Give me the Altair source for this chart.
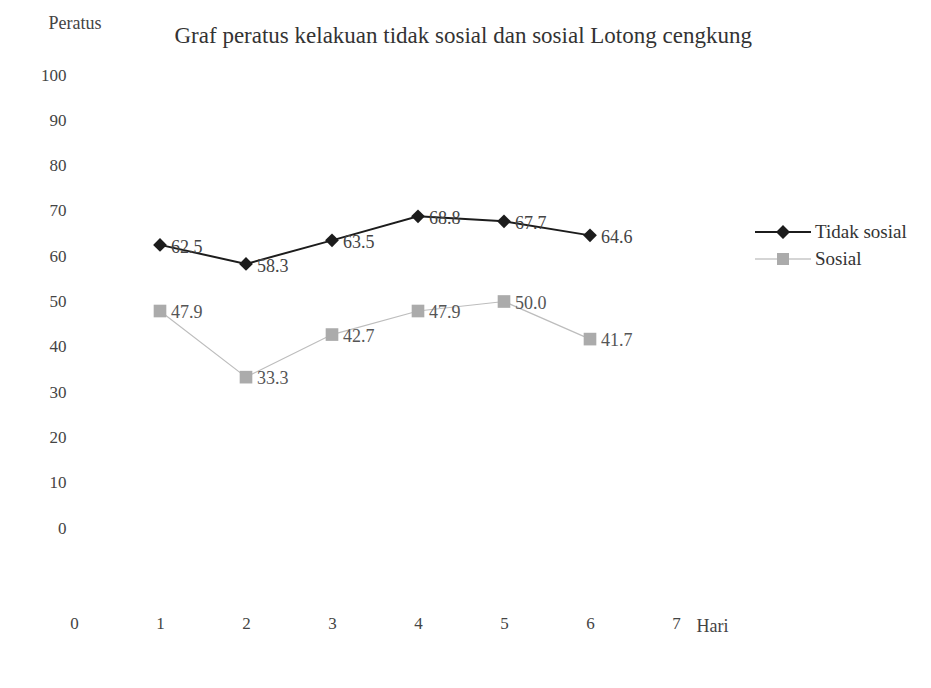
import altair as alt
import pandas as pd

days = [1, 2, 3, 4, 5, 6]
tidak_sosial = [62.5, 58.3, 63.5, 68.8, 67.7, 64.6]
sosial = [47.9, 33.3, 42.7, 47.9, 50.0, 41.7]
series_names = ["Tidak sosial", "Sosial"]
x_ticks = [0, 1, 2, 3, 4, 5, 6, 7]
y_ticks = [0, 10, 20, 30, 40, 50, 60, 70, 80, 90, 100]
title_text = "Graf peratus kelakuan tidak sosial dan sosial Lotong cengkung"

df = pd.DataFrame({
    "Hari": days * 2,
    "Peratus": tidak_sosial + sosial,
    "Siri": [series_names[0]] * len(days) + [series_names[1]] * len(days),
    "Label": [f"{v:.1f}" for v in tidak_sosial + sosial],
})

FONT = "Liberation Serif"

x_enc = alt.X(
    "Hari:Q",
    scale=alt.Scale(domain=[0, 7], nice=False, zero=False),
    axis=alt.Axis(
        values=x_ticks, domain=False, ticks=False, grid=False, offset=85,
        labelFlush=False, labelFont=FONT, labelFontSize=17, labelColor="#444",
        title="Hari", titleFont=FONT, titleFontSize=18, titleFontWeight="normal",
        titleColor="#444", titleX=622, titleY=4, titleAlign="left", titleBaseline="top",
    ),
)
y_enc = alt.Y(
    "Peratus:Q",
    scale=alt.Scale(domain=[0, 100], nice=False),
    axis=alt.Axis(
        values=y_ticks, domain=False, ticks=False, grid=False, labelPadding=8,
        labelFont=FONT, labelFontSize=17, labelColor="#444",
        title="Peratus", titleAngle=0, titleX=-26, titleY=-47, titleAlign="left",
        titleBaseline="alphabetic", titleFont=FONT, titleFontSize=18,
        titleFontWeight="normal", titleColor="#444",
    ),
)

base = alt.Chart(df).encode(x=x_enc, y=y_enc)

ts = base.transform_filter(alt.datum.Siri == series_names[0])
so = base.transform_filter(alt.datum.Siri == series_names[1])

ts_line = ts.mark_line(color="#1c1c1c", strokeWidth=2)
ts_pts = ts.mark_point(shape="diamond", filled=True, color="#1c1c1c", size=190, opacity=1)
ts_txt = ts.mark_text(align="left", baseline="middle", dx=11, dy=3, font=FONT,
                      fontSize=18, color="#444").encode(text="Label:N")

so_line = so.mark_line(color="#bdbdbd", strokeWidth=1.2)
so_pts = so.mark_point(shape="square", filled=True, color="#ababab", size=160, opacity=1)
so_txt = so.mark_text(align="left", baseline="middle", dx=11, dy=2, font=FONT,
                      fontSize=18, color="#555").encode(text="Label:N")

diamond_path = "M-2.8,-0.09H2.8V0.09H-2.8Z M0,-0.7L0.7,0L0,0.7L-0.7,0Z"
square_path = "M-2.8,-0.05H2.8V0.05H-2.8Z M-0.6,-0.6H0.6V0.6H-0.6Z"

leg = alt.Legend(
    title=None, orient="none", legendX=699, legendY=147, labelFont=FONT,
    labelFontSize=19, labelColor="#333", labelOffset=22, symbolSize=400,
    symbolStrokeWidth=0, rowPadding=7,
)
legend_layer = base.transform_filter("datum.Peratus < 0").mark_point(
    filled=True, size=400, opacity=1
).encode(
    color=alt.Color("Siri:N", scale=alt.Scale(domain=series_names, range=["#1c1c1c", "#ababab"]), legend=leg),
    shape=alt.Shape("Siri:N", scale=alt.Scale(domain=series_names, range=[diamond_path, square_path]), legend=leg),
)

chart = alt.layer(
    so_line, so_pts, so_txt, ts_line, ts_pts, ts_txt, legend_layer
).properties(
    width=602,
    height=453,
    autosize=alt.AutoSizeParams(type="none"),
    padding={"left": 66, "top": 67, "right": 247, "bottom": 152},
    title=alt.Title(title_text, anchor="start", dx=134, dy=58, offset=24, font=FONT,
                    fontSize=23, fontWeight="normal", color="#333"),
    background="white",
).configure_view(stroke=None)

chart.save("out.html", embed_options={"renderer": "svg", "actions": False})
